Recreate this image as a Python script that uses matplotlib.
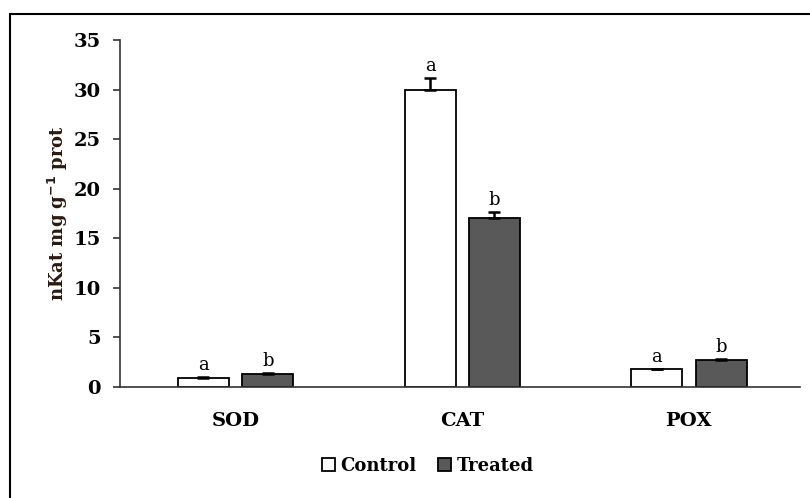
import matplotlib
matplotlib.use("Agg")
import matplotlib.pyplot as plt
from matplotlib.patches import Rectangle
import numpy as np

categories = ["SOD", "CAT", "POX"]
control = [0.9, 30.0, 1.8]
treated = [1.3, 17.0, 2.7]
control_err = [0.1, 1.2, 0.05]
treated_err = [0.12, 0.7, 0.15]
control_letters = ["a", "a", "a"]
treated_letters = ["b", "b", "b"]
yticks = [0, 5, 10, 15, 20, 25, 30, 35]

fig = plt.figure(figsize=(8.1, 4.98), dpi=100)
# outer frame
fig.patches.append(Rectangle((10/810, -0.1), 1.2, (498-14)/498 + 0.1, transform=fig.transFigure,
                             fill=False, edgecolor="black", linewidth=1.5, zorder=0))

ax = fig.add_axes([120/810, (498-387)/498, 680/810, (387-40)/498])
x = np.arange(len(categories)) + 0.01
w = 0.225
off = 0.142
font = "DejaVu Serif"

ax.bar(x - off, control, w, color="white", edgecolor="black", linewidth=1.3, label="Control", zorder=2)
ax.bar(x + off, treated, w, color="#595959", edgecolor="black", linewidth=1.3, label="Treated", zorder=2)
ax.errorbar(x - off, control, yerr=[np.zeros(3), control_err], fmt="none", ecolor="black",
            elinewidth=1.8, capsize=4.5, capthick=1.8, zorder=3)
ax.errorbar(x + off, treated, yerr=[np.zeros(3), treated_err], fmt="none", ecolor="black",
            elinewidth=1.8, capsize=4.5, capthick=1.8, zorder=3)

for xi, v, e, l in zip(x - off, control, control_err, control_letters):
    ax.annotate(l, (xi, v + e), xytext=(0, 2), textcoords="offset points", ha="center", va="bottom",
                fontsize=13, family=font)
for xi, v, e, l in zip(x + off, treated, treated_err, treated_letters):
    ax.annotate(l, (xi, v + e), xytext=(0, 2), textcoords="offset points", ha="center", va="bottom",
                fontsize=13, family=font)

ax.set_xlim(-0.5, 2.5)
ax.set_ylim(0, 35)
ax.set_yticks(yticks)
ax.set_yticklabels([str(t) for t in yticks], fontsize=14, fontweight="bold", family=font)
ax.set_xticks(x)
ax.set_xticklabels(categories, fontsize=14, fontweight="bold", family=font)
ax.tick_params(axis="x", length=0, pad=18)
ax.tick_params(axis="y", direction="out", length=5, width=1.2, pad=9, color="#333333")
for s in ["top", "right"]:
    ax.spines[s].set_visible(False)
for s in ["left", "bottom"]:
    ax.spines[s].set_linewidth(1.2)
    ax.spines[s].set_color("#333333")

ax.set_ylabel("nKat mg g$^{\\mathbf{-1}}$ prot", fontsize=13, fontweight="bold", family=font,
              color="#2a1a10")
ax.yaxis.set_label_coords(-0.074, 0.5)

leg = fig.legend(loc="center", bbox_to_anchor=(428/810, 1 - 466/498), ncol=2, frameon=False,
                 prop={"family": font, "weight": "bold", "size": 13},
                 handlelength=0.7, handleheight=0.7, handletextpad=0.3, columnspacing=1.2)

fig.savefig("out.png", dpi=100)
